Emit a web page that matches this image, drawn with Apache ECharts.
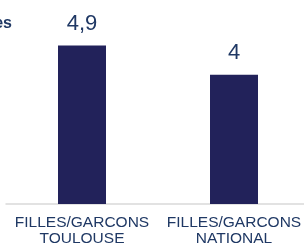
<!DOCTYPE html>
<html><head><meta charset="utf-8">
<script src="https://cdn.jsdelivr.net/npm/echarts@6/dist/echarts.min.js"></script>
<style>html,body{margin:0;padding:0;background:#fff}#c{width:304px;height:247px}</style>
</head><body><div id="c"></div>
<script>
var categories = ['FILLES/GARCONS\nTOULOUSE', 'FILLES/GARCONS\nNATIONAL'];
var values = [4.9, 4];
var valueLabels = ['4,9', '4'];
var titleText = 'Moyennes';

var chart = echarts.init(document.getElementById('c'), null, {renderer: 'canvas'});
chart.setOption({
  animation: false,
  graphic: [{
    type: 'text', right: 292, top: 16,
    style: {text: titleText, fill: '#1F3864', font: 'bold 16px Arial, "Liberation Sans", sans-serif', textAlign: 'right'}
  }],
  grid: {left: 6, width: 304, top: 10, bottom: 43, containLabel: false, outerBoundsMode: 'none'},
  xAxis: {
    type: 'category', data: categories,
    axisLine: {lineStyle: {color: '#D9D9D9', width: 1.5}},
    axisTick: {show: false},
    axisLabel: {color: '#1F3864', fontFamily: 'Arial, "Liberation Sans", sans-serif', fontSize: 15.5, lineHeight: 16.5, margin: 10, interval: 0}
  },
  yAxis: {type: 'value', min: 0, max: 6, show: false, splitLine: {show: false}},
  series: [{
    type: 'bar', data: values, barWidth: 48,
    itemStyle: {color: '#22225A'},
    label: {
      show: true, position: 'top', distance: 11,
      formatter: function (p) { return valueLabels[p.dataIndex]; },
      color: '#1F3864', fontFamily: 'Arial, "Liberation Sans", sans-serif', fontSize: 22
    }
  }]
});
</script></body></html>
